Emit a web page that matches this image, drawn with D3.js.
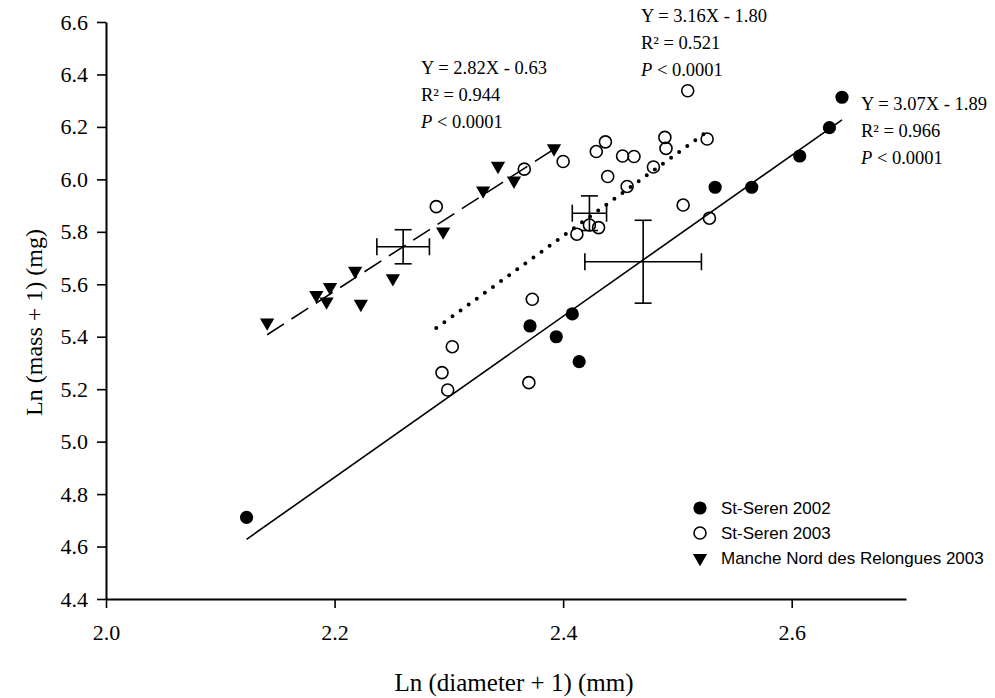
<!DOCTYPE html>
<html>
<head>
<meta charset="utf-8">
<script src="https://cdn.jsdelivr.net/npm/d3@7"></script>
<style>
  body { margin: 0; background: #fff; }
  svg text { font-family: "Liberation Serif", "Times New Roman", serif; fill: #000; }
  .legend text { font-family: "Liberation Sans", Arial, sans-serif; }
</style>
</head>
<body>
<div id="chart_placeholder"></div>
<script>
// St-Seren 2002 (filled circles)
var seren02X = [2.123, 2.371, 2.394, 2.408, 2.414, 2.533, 2.565, 2.607, 2.633, 2.644];
var seren02Y = [4.711, 5.441, 5.400, 5.487, 5.305, 5.970, 5.970, 6.089, 6.197, 6.313];

// St-Seren 2003 (open circles)
var seren03X = [2.289, 2.294, 2.299, 2.303, 2.366, 2.370, 2.373, 2.400, 2.412, 2.423, 2.429, 2.431,
                2.437, 2.439, 2.452, 2.456, 2.462, 2.479, 2.489, 2.490, 2.505, 2.509, 2.526, 2.528];
var seren03Y = [5.896, 5.263, 5.197, 5.362, 6.039, 5.225, 5.543, 6.068, 5.791, 5.826, 6.106, 5.816,
                6.143, 6.011, 6.089, 5.973, 6.087, 6.047, 6.160, 6.118, 5.902, 6.338, 6.154, 5.852];

// Manche Nord des Relongues 2003 (triangles)
var mancheX = [2.141, 2.184, 2.193, 2.196, 2.218, 2.223, 2.251, 2.295, 2.330, 2.343, 2.357, 2.392];
var mancheY = [5.454, 5.559, 5.534, 5.589, 5.651, 5.525, 5.623, 5.801, 5.957, 6.051, 5.995, 6.118];

// group order: 2002, 2003, Manche
var seriesNames = ["St-Seren 2002", "St-Seren 2003", "Manche Nord des Relongues 2003"];
var fitSlope = [3.07, 3.16, 2.82];
var fitIntercept = [-1.89, -1.80, -0.63];
var fitEq = ["Y = 3.07X - 1.89", "Y = 3.16X - 1.80", "Y = 2.82X - 0.63"];
var fitR2 = ["R\u00b2 = 0.966", "R\u00b2 = 0.521", "R\u00b2 = 0.944"];
var meanX = [2.470, 2.423, 2.260];
var meanY = [5.686, 5.871, 5.743];
var errX = [0.051, 0.015, 0.023];
var errY = [0.158, 0.066, 0.065];

var xTicks = [2.0, 2.2, 2.4, 2.6];
var yTicks = [4.4, 4.6, 4.8, 5.0, 5.2, 5.4, 5.6, 5.8, 6.0, 6.2, 6.4, 6.6];

var margin = {top: 22, right: 89, bottom: 99, left: 106},
    width = 995 - (margin.left + margin.right),
    height = 698 - (margin.top + margin.bottom);

var x = d3.scaleLinear().domain([2.0, 2.7]).range([0, width]);
var y = d3.scaleLinear().domain([4.4, 6.6]).range([height, 0]);

var root = d3.select("#chart_placeholder")
  .append("svg")
  .attr("width", 995)
  .attr("height", 698);

var svg = root.append("g")
  .attr("transform", "translate(" + margin.left + "," + margin.top + ")");

function pairs(xs, ys) {
  return xs.map(function(d, i) { return {x: d, y: ys[i]}; });
}
var groups = [pairs(seren02X, seren02Y), pairs(seren03X, seren03Y), pairs(mancheX, mancheY)];

// axes
var xAxis = svg.append("g")
  .attr("transform", "translate(0," + height + ")")
  .call(d3.axisBottom(x).tickValues(xTicks).tickFormat(d3.format(".1f"))
        .tickSize(9).tickSizeOuter(0).tickPadding(16));

var yAxis = svg.append("g")
  .call(d3.axisLeft(y).tickValues(yTicks).tickFormat(d3.format(".1f"))
        .tickSize(9).tickSizeOuter(0).tickPadding(9));

[xAxis, yAxis].forEach(function(a) {
  a.attr("font-family", null).attr("font-size", null);
  a.select(".domain").attr("stroke-width", 2);
  a.selectAll(".tick line").attr("stroke-width", 1.6);
  a.selectAll(".tick text").style("font-size", "22px");
});

// regression lines
var dashes = [null, "0,10", "20,9"];
groups.forEach(function(g, i) {
  var ext = d3.extent(g, function(d) { return d.x; });
  var fit = ext.map(function(v) { return {x: v, y: fitSlope[i] * v + fitIntercept[i]}; });
  svg.append("path")
    .datum(fit)
    .attr("fill", "none")
    .attr("stroke", "#000")
    .attr("stroke-width", i == 1 ? 4 : 1.6)
    .attr("stroke-linecap", i == 1 ? "round" : "butt")
    .attr("stroke-dasharray", dashes[i])
    .attr("d", d3.line().x(function(d) { return x(d.x); }).y(function(d) { return y(d.y); }));
});

// mean +/- error crosses
var cap = 8.5;
meanX.forEach(function(mx, i) {
  var e = svg.append("g").attr("stroke", "#000").attr("stroke-width", 1.6);
  e.append("line").attr("x1", x(mx - errX[i])).attr("x2", x(mx + errX[i]))
    .attr("y1", y(meanY[i])).attr("y2", y(meanY[i]));
  e.append("line").attr("x1", x(mx)).attr("x2", x(mx))
    .attr("y1", y(meanY[i] - errY[i])).attr("y2", y(meanY[i] + errY[i]));
  [mx - errX[i], mx + errX[i]].forEach(function(v) {
    e.append("line").attr("x1", x(v)).attr("x2", x(v))
      .attr("y1", y(meanY[i]) - cap).attr("y2", y(meanY[i]) + cap);
  });
  [meanY[i] - errY[i], meanY[i] + errY[i]].forEach(function(v) {
    e.append("line").attr("x1", x(mx) - cap).attr("x2", x(mx) + cap)
      .attr("y1", y(v)).attr("y2", y(v));
  });
});

// markers
var tri = d3.symbol().type(d3.symbolTriangle).size(88);
function marker(sel, i) {
  if (i == 2) {
    sel.append("path").attr("d", tri).attr("transform", "rotate(180)").attr("fill", "#000");
  } else {
    sel.append("circle")
      .attr("r", i == 0 ? 6.6 : 6)
      .attr("fill", i == 0 ? "#000" : "none")
      .attr("stroke", "#000")
      .attr("stroke-width", i == 0 ? 0 : 1.6);
  }
}

groups.forEach(function(g, i) {
  svg.append("g").selectAll("g")
    .data(g)
    .enter().append("g")
    .attr("transform", function(d) { return "translate(" + x(d.x) + "," + y(d.y) + ")"; })
    .each(function() { marker(d3.select(this), i); });
});

// equation labels
var labelPos = [[861, 110], [641, 22], [421, 74]];
labelPos.forEach(function(p, i) {
  var t = root.append("text")
    .attr("transform", "translate(" + p[0] + "," + p[1] + ")")
    .style("font-size", "18.5px");
  t.append("tspan").attr("x", 0).attr("y", 0).text(fitEq[i]);
  t.append("tspan").attr("x", 0).attr("y", 27).text(fitR2[i]);
  var pl = t.append("tspan").attr("x", 0).attr("y", 54);
  pl.append("tspan").attr("font-style", "italic").text("P");
  pl.append("tspan").text(" < 0.0001");
});

// legend
var legend = root.append("g").attr("class", "legend")
  .attr("transform", "translate(700,508)");
seriesNames.forEach(function(name, i) {
  var row = legend.append("g").attr("transform", "translate(0," + (i * 25) + ")");
  marker(row, i);
  row.append("text")
    .attr("x", 21)
    .attr("dy", "0.36em")
    .style("font-size", "17px")
    .text(name);
});

// axis titles
root.append("text")
  .attr("x", margin.left + width / 2 + 8)
  .attr("y", 691)
  .attr("text-anchor", "middle")
  .style("font-size", "25px")
  .text("Ln (diameter + 1) (mm)");

root.append("text")
  .attr("transform", "translate(42," + (margin.top + height / 2 + 12) + ") rotate(-90)")
  .attr("text-anchor", "middle")
  .style("font-size", "24px")
  .text("Ln (mass + 1) (mg)");
</script>
</body>
</html>
